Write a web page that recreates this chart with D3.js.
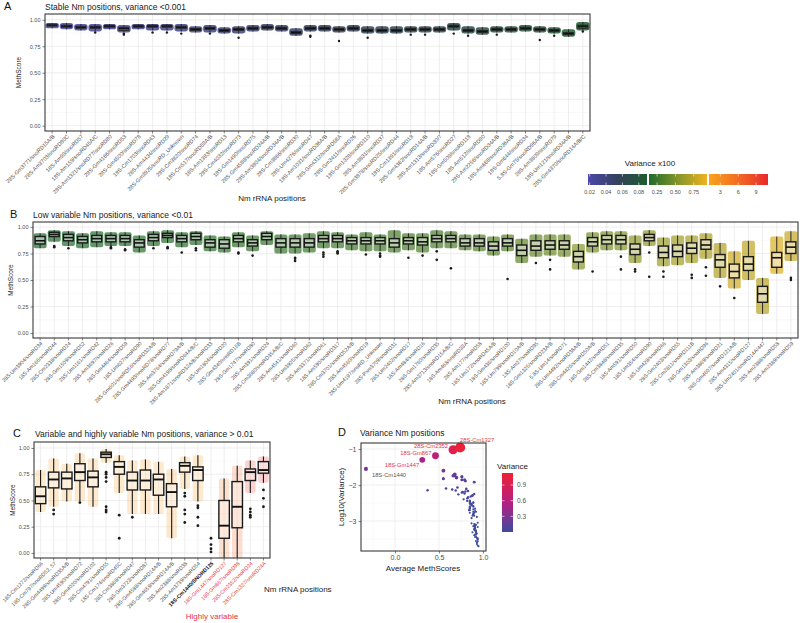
<!DOCTYPE html>
<html><head><meta charset="utf-8">
<script src="https://cdn.jsdelivr.net/npm/d3@7"></script>
<style>body{margin:0;background:#fff} text{font-family:"Liberation Sans",Arial,Helvetica,sans-serif}</style>
</head><body><svg id="c" width="800" height="623"></svg>
<script>
// ---------------- DATA ----------------
const yTicks = [0, 0.25, 0.5, 0.75, 1];

// Panel A : stable positions
const aNames = ["28S-Gm3771/snoRD15A/B","28S-Am3703/snoRD80C","18S-Am99/snoRD57","18S-Am159/snoRD45A/C","28S-Am1321/snoRD77/snoRD80","28S-Gm4166/snoRD53","28S-Gm4500/snoRD78","18S-Cm1703/snoRD43","28S-Am4434/snoRD29","28S-Gm3925/snoRD_Unknown","28S-Cm3820/snoRD74","18S-Cm517/snoRD59A/B","18S-Am1383/snoRD13","28S-Cm4032/snoRD73","18S-Gm1490/snoRD75","28S-Gm4588/snoRD34A/B","28S-Am3804/snoRD34A/B","28S-Cm3866/snoRD30","28S-Um4276/snoRD47","18S-Am1031/snoRD36A/B","28S-Gm4312/snoRD58A","28S-Gm3411/snoRD26","18S-Gm1328/snoRD110","28S-Am3831/snoRD37","28S-Gm3878/snoRD25/snoRD44","18S-Cm1391/snoRD18","28S-Gm4362/snoRD14A/B","28S-Am1313/snoRD30/7","18S-Am576/snoRD27","18S-Gm509/snoRD118","18S-Am512/snoRD90","28S-Am2256/snoRD34A/B","18S-Am668/snoRD36A/B","18S-Gm644/snoRD34","5.8S-Gm75/snoRD96A/B","28S-Am3809/snoRD79","18S-Um121/snoRD34A/B","28S-Gm4370/snoRD14A/B/C"];
const aQ1  = [0.94,0.93,0.92,0.92,0.93,0.90,0.93,0.93,0.93,0.92,0.90,0.91,0.89,0.90,0.91,0.92,0.91,0.87,0.91,0.91,0.90,0.91,0.89,0.89,0.89,0.90,0.90,0.90,0.93,0.89,0.88,0.90,0.90,0.91,0.90,0.89,0.86,0.92];
const aMed = [0.95,0.94,0.93,0.93,0.94,0.92,0.94,0.94,0.94,0.93,0.91,0.92,0.90,0.91,0.92,0.93,0.92,0.88,0.92,0.92,0.91,0.92,0.90,0.90,0.90,0.91,0.91,0.91,0.94,0.90,0.89,0.91,0.91,0.92,0.91,0.90,0.87,0.94];
const aQ3  = [0.96,0.95,0.94,0.94,0.95,0.93,0.95,0.95,0.95,0.94,0.92,0.93,0.91,0.92,0.93,0.94,0.93,0.89,0.93,0.93,0.92,0.93,0.91,0.91,0.91,0.92,0.92,0.92,0.95,0.91,0.90,0.92,0.92,0.93,0.92,0.91,0.88,0.95];
const aLo  = [0.92,0.91,0.90,0.89,0.91,0.88,0.91,0.90,0.90,0.89,0.88,0.88,0.87,0.87,0.89,0.90,0.89,0.85,0.89,0.89,0.88,0.89,0.87,0.87,0.87,0.88,0.88,0.88,0.90,0.87,0.86,0.88,0.88,0.89,0.88,0.87,0.84,0.90];
const aHi  = [0.97,0.97,0.96,0.96,0.96,0.95,0.96,0.96,0.96,0.96,0.94,0.95,0.93,0.94,0.95,0.96,0.95,0.92,0.95,0.95,0.94,0.95,0.94,0.94,0.94,0.94,0.94,0.94,0.97,0.94,0.93,0.94,0.94,0.95,0.94,0.93,0.91,0.98];
const aOut = [[],[],[],[0.88],[],[0.86,0.87],[],[0.88],[0.88],[0.87],[],[0.87],[],[0.83],[],[],[],[],[0.84,0.85],[],[0.80],[],[0.83],[],[],[0.86],[0.86],[],[0.87],[0.85],[],[0.86],[],[],[0.81],[0.85],[],[0.89]];
const aVar = [0.020,0.021,0.023,0.025,0.027,0.028,0.030,0.031,0.033,0.034,0.036,0.038,0.040,0.042,0.043,0.045,0.047,0.049,0.050,0.052,0.054,0.055,0.057,0.059,0.060,0.062,0.064,0.066,0.068,0.070,0.072,0.074,0.076,0.078,0.080,0.083,0.086,0.089];

// Panel B : low variable positions
const bNames = ["28S-Um3904/snoRD34","18S-Am166/snoRD44","28S-Cm2338/snoRD24","28S-Gm1509/snoRD52","28S-Um1161/snoRD42","28S-Am3697/snoRD26","28S-Gm4464/snoRD59","18S-Um627/snoRD90","28S-Gm601/snoRD56/snoRD32A/B","28S-Gm4493/snoRD78/snoRD77","28S-Am3764/snoRD79A/B","28S-Gm4198/snoRD64A/B/C","28S-Am1871/snoRD32A/B/snoRD33","18S-Um1804/snoRD20","28S-Gm4340/snoRD15B","28S-Gm1747/snoRD80","28S-Am391/snoRD24","28S-Cm3680/snoRD35A/B/C","28S-Am4541/snoRD60","28S-Um3925/snoRD62","28S-Am3371/snoRD61","18S-Am590/snoRD317","28S-Cm3701/snoRD52A/B","28S-Am4560/snoRD19","28S-Um4197/snoRD_Unknown","28S-Psm3709/snoRD31","28S-Um2402/snoRD17","18S-Am484/snoRD16","28S-Gm1760/snoRD35","28S-Am3713/snoRD15A/B/C","18S-Am468/snoRD33A","28S-Am177/snoRD58","18S-Um172/snoRD45A/B","18S-Gm436/snoRD100","18S-Um799/snoRD10A/B","18S-Am27/snoRD95","18S-Gm1325/snoRD23A/B","5.8S-Um14/snoRD71","28S-Um4492/snoRD38A/B","28S-Cm4426/snoRD50A/B","18S-Gm1442/snoRD51","28S-Cm3848/snoRD35","18S-Am591/snoRD50","18S-Um354/snoRD90","18S-Um428/snoRD66","28S-Gm2403/snoRD55","28S-Cm2811/snoRD111B","28S-Gm1303/snoRD96","28S-Am3869/snoRD21","28S-Gm4607/snoRD121A/B","28S-Am4315/snoRD127","28S-Um2401/snoRD14A/447","28S-Am2388/snoRD58","28S-Am2389/snoRD59"];
const bQ1  = [0.84,0.91,0.87,0.85,0.86,0.86,0.86,0.81,0.87,0.90,0.86,0.88,0.81,0.80,0.86,0.82,0.88,0.81,0.81,0.81,0.86,0.86,0.84,0.84,0.84,0.81,0.84,0.83,0.86,0.86,0.82,0.82,0.78,0.82,0.73,0.78,0.79,0.79,0.67,0.82,0.84,0.84,0.74,0.87,0.71,0.72,0.75,0.79,0.62,0.52,0.59,0.29,0.62,0.75];
const bMed = [0.87,0.93,0.90,0.88,0.89,0.89,0.89,0.85,0.90,0.92,0.89,0.91,0.85,0.84,0.89,0.85,0.91,0.85,0.85,0.85,0.89,0.89,0.87,0.87,0.87,0.85,0.87,0.86,0.89,0.89,0.85,0.85,0.82,0.85,0.78,0.82,0.83,0.83,0.72,0.86,0.88,0.88,0.79,0.90,0.76,0.77,0.80,0.83,0.69,0.58,0.65,0.37,0.71,0.81];
const bQ3  = [0.91,0.95,0.93,0.91,0.92,0.92,0.92,0.88,0.93,0.94,0.92,0.94,0.88,0.88,0.92,0.88,0.94,0.89,0.89,0.89,0.92,0.92,0.90,0.90,0.90,0.89,0.90,0.90,0.92,0.92,0.89,0.89,0.86,0.89,0.83,0.87,0.87,0.87,0.77,0.90,0.92,0.92,0.84,0.93,0.82,0.83,0.85,0.88,0.74,0.65,0.72,0.44,0.76,0.86];
const bLo  = [0.80,0.86,0.82,0.80,0.81,0.82,0.82,0.76,0.82,0.85,0.81,0.83,0.77,0.76,0.81,0.77,0.83,0.75,0.75,0.76,0.80,0.80,0.78,0.77,0.77,0.76,0.78,0.76,0.80,0.80,0.78,0.77,0.73,0.77,0.66,0.72,0.73,0.72,0.60,0.76,0.78,0.78,0.66,0.82,0.63,0.64,0.66,0.70,0.52,0.42,0.50,0.18,0.56,0.68];
const bHi  = [0.94,0.97,0.96,0.94,0.96,0.95,0.95,0.92,0.96,0.97,0.95,0.96,0.92,0.91,0.95,0.92,0.96,0.93,0.93,0.94,0.96,0.95,0.93,0.95,0.93,0.97,0.94,0.94,0.97,0.96,0.93,0.93,0.91,0.93,0.89,0.93,0.93,0.93,0.84,0.95,0.96,0.96,0.92,0.97,0.90,0.92,0.92,0.94,0.85,0.77,0.87,0.52,0.91,0.96];
const bOut = [[],[0.81,0.82],[0.80],[],[],[0.80,0.81],[0.78,0.79],[],[0.80],[0.80,0.81],[0.76],[0.78,0.80],[],[],[0.75,0.76],[0.73],[],[],[0.68,0.70,0.71],[],[0.72,0.74,0.76],[0.75,0.76,0.77],[],[0.74],[0.72,0.73,0.75],[],[0.71],[0.73],[0.69,0.77],[0.61],[],[],[],[0.51],[],[0.66],[0.60,0.69],[],[],[0.58],[],[0.60,0.72],[0.58,0.60],[0.53,0.76],[0.53,0.58],[],[0.52,0.55],[0.54,0.62],[0.44],[0.33],[],[],[],[0.50,0.52]];
const bVar = [0.12,0.13,0.14,0.14,0.15,0.15,0.16,0.17,0.17,0.18,0.18,0.19,0.20,0.20,0.21,0.22,0.22,0.23,0.24,0.25,0.25,0.26,0.27,0.28,0.28,0.30,0.30,0.31,0.32,0.33,0.34,0.35,0.36,0.37,0.40,0.42,0.44,0.46,0.55,0.48,0.50,0.52,0.58,0.56,0.62,0.64,0.66,0.68,0.70,0.80,0.75,0.72,0.85,0.78];

// Panel C : variable and highly variable positions
const cNames = ["18S-Cm1272/snoRD66","18S-Cm797/snoRD52, 57","28S-Gm4499/snoRD35A/B","28S-Um4590/snoRD72","28S-Gm4020/snoRD102","28S-Cm4791/snoRD55","18S-Cm174/snoRD45C","28S-Cm3868/snoRD47","28S-Gm3723/snoRD87","28S-Gm4588/snoRD14A/B","28S-Gm4659/snoRD14A/B","28S-Am2388/snoRD38","28S-Am3739/snoRD54","18S-Cm1440/SNORD125","18S-Gm1447/snoRD127","18S-Gm867/snoRD98","28S-Cm2352/snoRD24","28S-Cm1327/snoRD24A"];
const cGroup = ["var","var","var","var","var","var","var","var","var","var","var","var","var","dark","high","high","high","high"];
const cQ1  = [0.47,0.62,0.61,0.69,0.63,0.91,0.75,0.60,0.60,0.55,0.44,0.77,0.69,0.00,0.14,0.24,0.69,0.76];
const cMed = [0.54,0.70,0.71,0.77,0.72,0.94,0.82,0.69,0.69,0.70,0.58,0.83,0.79,0.00,0.26,0.44,0.77,0.79];
const cQ3  = [0.63,0.77,0.77,0.85,0.78,0.96,0.87,0.77,0.79,0.75,0.66,0.86,0.82,0.00,0.50,0.68,0.80,0.87];
const cLo  = [0.39,0.44,0.49,0.49,0.44,0.86,0.57,0.37,0.37,0.37,0.14,0.61,0.49,0.00,-0.10,-0.10,0.57,0.67];
const cHi  = [0.79,0.90,0.85,0.95,0.90,0.99,0.93,0.88,0.89,0.87,0.80,0.92,0.93,0.00,0.71,0.83,0.88,0.92];
const cOut = [[],[0.41,0.37],[],[0.48],[],[0.77,0.75,0.72,0.68,0.44,0.41,0.39],[0.36,0.14],[0.34],[],[],[],[0.57,0.54,0.41,0.37,0.29],[0.45,0.43,0.34,0.26],[0.14,0.08,0.04,0.01],[],[],[0.42,0.39,0.36,0.34],[0.60,0.52,0.44]];
const cVar = [1.5,1.8,1.6,1.7,1.6,1.2,1.4,1.9,2.0,1.8,2.5,1.3,1.4,2.8,5.0,6.5,9.5,11.0];
const cMean = [0.55,0.68,0.70,0.76,0.70,0.90,0.79,0.67,0.68,0.66,0.55,0.80,0.76,-0.33,0.31,0.46,0.66,0.74];

// Panel D labels (positions in panel C order)
const dLabelIdx = [13,14,15,16,17];
const dLabelText = ["18S-Cm1440","18S-Gm1447","18S-Gm867","28S-Cm2352","28S-Cm1327"];

// legends
const legTicks1 = [0.02,0.04,0.06,0.08];
const legTicks2 = [0.25,0.50,0.75];
const legTicks3 = [3,6,9];
const dLegTicks = [0.3,0.6,0.9];
const dXTicks = [0, 0.5, 1];
const dYTicks = [-1, -2, -3];

// ---------------- DRAW ----------------
const svg = d3.select("#c");
svg.append("rect").attr("width",800).attr("height",623).attr("fill","#fff");
const defs = svg.append("defs");

const seg1 = d3.scaleLinear().domain([0.018,0.054,0.09]).range(["#4b48aa","#35415c","#1d5c2e"]).clamp(true);
const seg2 = d3.scaleLinear().domain([0.14,0.54,0.93]).range(["#1e6b2b","#85962a","#f1b21f"]).clamp(true);
const seg3 = d3.scaleLinear().domain([1.1,6,11]).range(["#f8a41d","#f26b22","#e9282c"]).clamp(true);
function varColor(v){ return v < 0.1 ? seg1(v) : (v < 1 ? seg2(v) : seg3(v)); }

const GRID_MAJ = "#e6e6e6", GRID_MIN = "#f3f3f3", TXT = "#4d4d4d";

function boxPanel(o){
  const n = o.names.length;
  const g = svg.append("g");
  const x = d3.scaleBand().domain(d3.range(n)).range([o.x0, o.x1]);
  const y = d3.scaleLinear().domain(o.yDomain).range([o.yBot, o.yTop]);
  const bw = x.bandwidth();
  defs.append("clipPath").attr("id","clip"+o.id).append("rect")
    .attr("x",o.x0).attr("y",o.yTop).attr("width",o.x1-o.x0).attr("height",o.yBot-o.yTop);
  [0.125,0.375,0.625,0.875].forEach(t => g.append("line").attr("x1",o.x0).attr("x2",o.x1)
      .attr("y1",y(t)).attr("y2",y(t)).attr("stroke",GRID_MIN).attr("stroke-width",0.5));
  yTicks.forEach(t => g.append("line").attr("x1",o.x0).attr("x2",o.x1)
      .attr("y1",y(t)).attr("y2",y(t)).attr("stroke",GRID_MAJ).attr("stroke-width",0.7));
  d3.range(n).forEach(i => g.append("line").attr("x1",x(i)+bw/2).attr("x2",x(i)+bw/2)
      .attr("y1",o.yTop).attr("y2",o.yBot).attr("stroke",GRID_MAJ).attr("stroke-width",0.7));
  const p = g.append("g").attr("clip-path","url(#clip"+o.id+")");
  d3.range(n).forEach(i => {
    const cx = x(i)+bw/2, col = varColor(o.vars[i]);
    const cw = bw*o.cloudW, bx = bw*o.boxW;
    if (o.hi[i] > o.lo[i]) {
      p.append("rect").attr("x",cx-cw/2).attr("y",y(o.hi[i])).attr("width",cw)
        .attr("height",y(o.lo[i])-y(o.hi[i])).attr("rx",o.cloudRx).attr("fill",col).attr("opacity",o.cloudOp);
    }
    p.append("line").attr("x1",cx).attr("x2",cx).attr("y1",y(o.hi[i])).attr("y2",y(o.q3[i]))
      .attr("stroke","#1a1a1a").attr("stroke-width",o.whW);
    p.append("line").attr("x1",cx).attr("x2",cx).attr("y1",y(o.q1[i])).attr("y2",y(o.lo[i]))
      .attr("stroke","#1a1a1a").attr("stroke-width",o.whW);
    if (o.q3[i] > o.q1[i]) {
      p.append("rect").attr("x",cx-bx/2).attr("y",y(o.q3[i])).attr("width",bx)
        .attr("height",y(o.q1[i])-y(o.q3[i]))
        .attr("fill",o.boxFill==="color"?col:"#fff").attr("fill-opacity",o.boxFill==="color"?1:o.boxOp)
        .attr("stroke",o.boxStroke).attr("stroke-width",o.boxSW);
      p.append("line").attr("x1",cx-bx/2).attr("x2",cx+bx/2).attr("y1",y(o.med[i])).attr("y2",y(o.med[i]))
        .attr("stroke","#111").attr("stroke-width",o.medW);
    }
    o.out[i].forEach(v => p.append("circle").attr("cx",cx).attr("cy",y(v)).attr("r",o.outR).attr("fill","#1a1a1a"));
  });
  g.append("rect").attr("x",o.x0).attr("y",o.yTop).attr("width",o.x1-o.x0).attr("height",o.yBot-o.yTop)
    .attr("fill","none").attr("stroke","#3a3a3a").attr("stroke-width",1.1);
  const ya = g.append("g").attr("transform",`translate(${o.x0},0)`)
    .call(d3.axisLeft(y).tickValues(yTicks).tickFormat(d3.format(".2f")).tickSize(2.5).tickPadding(2));
  ya.select(".domain").remove();
  ya.selectAll("line").attr("stroke","#333").attr("stroke-width",0.6);
  ya.selectAll("text").attr("font-size",o.tickFs).attr("fill",TXT);
  const xa = g.append("g").attr("transform",`translate(0,${o.yBot})`)
    .call(d3.axisBottom(x).tickFormat(i => o.names[i]).tickSize(2.5));
  xa.select(".domain").remove();
  xa.selectAll("line").attr("stroke","#333").attr("stroke-width",0.6);
  xa.selectAll("text").attr("x",0).attr("y",0).attr("dy","0.35em")
    .attr("transform","translate(1.5,4.5) rotate(-45)").attr("text-anchor","end")
    .attr("font-size",o.labFs).attr("fill",(i)=>o.labColor?o.labColor(i):TXT)
    .attr("font-weight",(i)=>o.labWeight?o.labWeight(i):"normal");
  svg.append("text").attr("x",o.letterX).attr("y",o.titleY).attr("font-size",11).attr("fill","#111").text(o.letter);
  svg.append("text").attr("x",o.titleX).attr("y",o.titleY).attr("font-size",8.5).attr("fill","#1a1a1a").text(o.title);
  svg.append("text").attr("transform",`translate(${o.yTitleX},${(o.yTop+o.yBot)/2}) rotate(-90)`)
    .attr("text-anchor","middle").attr("font-size",6.5).attr("fill","#1a1a1a").text("MethScore");
  svg.append("text").attr("x",o.xTitleX).attr("y",o.xTitleY).attr("text-anchor",o.xTitleAnchor||"middle")
    .attr("font-size",8).attr("fill","#1a1a1a").text("Nm rRNA positions");
}

boxPanel({id:"A", names:aNames, q1:aQ1, med:aMed, q3:aQ3, lo:aLo, hi:aHi, out:aOut, vars:aVar,
  x0:45, x1:590, yTop:14, yBot:131, yDomain:[-0.05,1.055], cloudW:0.95, boxW:0.7, cloudOp:0.85, cloudRx:3,
  boxFill:"color", boxStroke:"#2a2a2a", boxSW:0.9, medW:1.3, whW:0.8, outR:1.2, tickFs:5.5, labFs:5.5,
  letter:"A", letterX:4, title:"Stable Nm positions, variance <0.001", titleX:45, titleY:10, yTitleX:21, xTitleX:272, xTitleY:201});

boxPanel({id:"B", names:bNames, q1:bQ1, med:bMed, q3:bQ3, lo:bLo, hi:bHi, out:bOut, vars:bVar,
  x0:33, x1:798, yTop:222, yBot:338, yDomain:[-0.047,1.047], cloudW:0.92, boxW:0.7, cloudOp:0.7, cloudRx:2,
  boxFill:"white", boxOp:0.45, boxStroke:"#1a1a1a", boxSW:1.4, medW:1.6, whW:0.9, outR:1.3, tickFs:5.5, labFs:5.3,
  letter:"B", letterX:10, title:"Low variable Nm positions, variance <0.01", titleX:33, titleY:218, yTitleX:13, xTitleX:472, xTitleY:404});

boxPanel({id:"C", names:cNames, q1:cQ1, med:cMed, q3:cQ3, lo:cLo, hi:cHi, out:cOut, vars:cVar,
  x0:34, x1:270, yTop:442, yBot:558, yDomain:[-0.048,1.057], cloudW:0.8, boxW:0.8, cloudOp:0.22, cloudRx:2,
  boxFill:"white", boxOp:0.3, boxStroke:"#1a1a1a", boxSW:1.4, medW:1.9, whW:1.1, outR:1.4, tickFs:5.5, labFs:5.3,
  labColor: i => cGroup[i]==="high" ? "#e5333f" : (cGroup[i]==="dark" ? "#111" : TXT),
  labWeight: i => cGroup[i]==="dark" ? "bold" : "normal",
  letter:"C", letterX:13, title:"Variable and highly variable Nm positions, variance > 0.01", titleX:35, titleY:437, yTitleX:15, xTitleX:264, xTitleY:592, xTitleAnchor:"start"});

svg.append("text").attr("x",212).attr("y",619).attr("text-anchor","middle").attr("font-size",8)
  .attr("fill","#e5333f").text("Highly variable");

// ---------- Legend (Variance x100) ----------
const legSegs = [
  {sc:seg1, dom:[0.018,0.09], x:[588,647], ticks:legTicks1, fmt:d3.format(".2f")},
  {sc:seg2, dom:[0.14,0.93], x:[649,707], ticks:legTicks2, fmt:d3.format(".2f")},
  {sc:seg3, dom:[1.1,11], x:[709,768], ticks:legTicks3, fmt:d3.format("d")}
];
svg.append("text").attr("x",650).attr("y",166).attr("text-anchor","middle").attr("font-size",8).attr("fill","#1a1a1a").text("Variance x100");
legSegs.forEach((s,k) => {
  const gid = "lg"+k;
  const grad = defs.append("linearGradient").attr("id",gid);
  d3.range(11).forEach(j => {
    const v = s.dom[0] + (s.dom[1]-s.dom[0])*j/10;
    grad.append("stop").attr("offset",(j*10)+"%").attr("stop-color",s.sc(v));
  });
  svg.append("rect").attr("x",s.x[0]).attr("y",174).attr("width",s.x[1]-s.x[0]).attr("height",11).attr("fill","url(#"+gid+")");
  const lx = d3.scaleLinear().domain(s.dom).range(s.x);
  s.ticks.forEach(t => {
    svg.append("line").attr("x1",lx(t)).attr("x2",lx(t)).attr("y1",174).attr("y2",176.5).attr("stroke","#fff").attr("stroke-width",0.6);
    svg.append("line").attr("x1",lx(t)).attr("x2",lx(t)).attr("y1",182.5).attr("y2",185).attr("stroke","#fff").attr("stroke-width",0.6);
    svg.append("text").attr("x",lx(t)).attr("y",194).attr("text-anchor","middle").attr("font-size",5.5).attr("fill",TXT).text(s.fmt(t));
  });
});

// ---------- Panel D ----------
const dx = d3.scaleLinear().domain([-0.386,1.034]).range([361,486]);
const dy = d3.scaleLinear().domain([-3.833,-0.833]).range([551,443]);
const dCol = d3.scaleLinear().domain([0,0.55,1.13]).range(["#3d4b9d","#b41f84","#ef2035"]);
const dR = d3.scaleLinear().domain([0,1.13]).range([1.0,5.2]);
const dPts = [];
aMed.forEach((m,i)=>dPts.push({x:m, v:aVar[i]}));
bMed.forEach((m,i)=>dPts.push({x:m, v:bVar[i]}));
cMean.forEach((m,i)=>dPts.push({x:m, v:cVar[i]}));
dPts.sort((a,b)=>a.v-b.v);
const dg = svg.append("g");
[-0.25,0.25,0.75].forEach(t=>dg.append("line").attr("x1",dx(t)).attr("x2",dx(t)).attr("y1",443).attr("y2",551).attr("stroke",GRID_MIN).attr("stroke-width",0.5));
[-1.5,-2.5,-3.5].forEach(t=>dg.append("line").attr("y1",dy(t)).attr("y2",dy(t)).attr("x1",361).attr("x2",486).attr("stroke",GRID_MIN).attr("stroke-width",0.5));
dXTicks.forEach(t=>dg.append("line").attr("x1",dx(t)).attr("x2",dx(t)).attr("y1",443).attr("y2",551).attr("stroke",GRID_MAJ).attr("stroke-width",0.7));
dYTicks.forEach(t=>dg.append("line").attr("y1",dy(t)).attr("y2",dy(t)).attr("x1",361).attr("x2",486).attr("stroke",GRID_MAJ).attr("stroke-width",0.7));
dPts.forEach(d => dg.append("circle").attr("cx",dx(d.x)).attr("cy",dy(Math.log10(d.v/100)))
  .attr("r",dR(d.v/10)).attr("fill",dCol(d.v/10)));
dg.append("rect").attr("x",361).attr("y",443).attr("width",125).attr("height",108).attr("fill","none").attr("stroke","#3a3a3a").attr("stroke-width",1.1);
const dxa = dg.append("g").attr("transform","translate(0,551)").call(d3.axisBottom(dx).tickValues(dXTicks).tickFormat(d3.format(".1f")).tickSize(2.5).tickPadding(2));
dxa.select(".domain").remove();
dxa.selectAll("line").attr("stroke","#333").attr("stroke-width",0.6);
dxa.selectAll("text").attr("font-size",7).attr("fill",TXT);
const dya = dg.append("g").attr("transform","translate(361,0)").call(d3.axisLeft(dy).tickValues(dYTicks).tickFormat(d3.format("d")).tickSize(2.5).tickPadding(2));
dya.select(".domain").remove();
dya.selectAll("line").attr("stroke","#333").attr("stroke-width",0.6);
dya.selectAll("text").attr("font-size",7).attr("fill",TXT);
const dLabOff = [[6,8,"start"],[-3,7,"end"],[-4,-1,"end"],[-5,-2,"end"],[0,-6,"start"]];
dLabelIdx.forEach((ci,k) => {
  const px = dx(cMean[ci]), py = dy(Math.log10(cVar[ci]/100));
  dg.append("text").attr("x",px+dLabOff[k][0]).attr("y",py+dLabOff[k][1]).attr("text-anchor",dLabOff[k][2])
    .attr("font-size",5.8).attr("fill", k===0 ? "#555" : "#e5333f").text(dLabelText[k]);
});
svg.append("text").attr("x",338).attr("y",436).attr("font-size",11).attr("fill","#111").text("D");
svg.append("text").attr("x",360).attr("y",436).attr("font-size",8.5).attr("fill","#1a1a1a").text("Variance Nm positions");
svg.append("text").attr("x",423).attr("y",571).attr("text-anchor","middle").attr("font-size",8).attr("fill","#1a1a1a").text("Average MethScores");
svg.append("text").attr("transform","translate(344,497) rotate(-90)").attr("text-anchor","middle").attr("font-size",8).attr("fill","#1a1a1a").text("Log10(Variance)");
const legY = d3.scaleLinear().domain([0,1.13]).range([532,473]);
const vg = defs.append("linearGradient").attr("id","dleg").attr("x1",0).attr("x2",0).attr("y1",1).attr("y2",0);
d3.range(11).forEach(j => vg.append("stop").attr("offset",(j*10)+"%").attr("stop-color",dCol(1.13*j/10)));
svg.append("text").attr("x",497).attr("y",469).attr("font-size",8).attr("fill","#1a1a1a").text("Variance");
svg.append("rect").attr("x",502).attr("y",473).attr("width",11).attr("height",59).attr("fill","url(#dleg)");
dLegTicks.forEach(t => {
  svg.append("line").attr("x1",502).attr("x2",504.5).attr("y1",legY(t)).attr("y2",legY(t)).attr("stroke","#fff").attr("stroke-width",0.6);
  svg.append("line").attr("x1",510.5).attr("x2",513).attr("y1",legY(t)).attr("y2",legY(t)).attr("stroke","#fff").attr("stroke-width",0.6);
  svg.append("text").attr("x",517).attr("y",legY(t)).attr("dy","0.35em").attr("font-size",6.5).attr("fill",TXT).text(d3.format(".1f")(t));
});
</script></body></html>
